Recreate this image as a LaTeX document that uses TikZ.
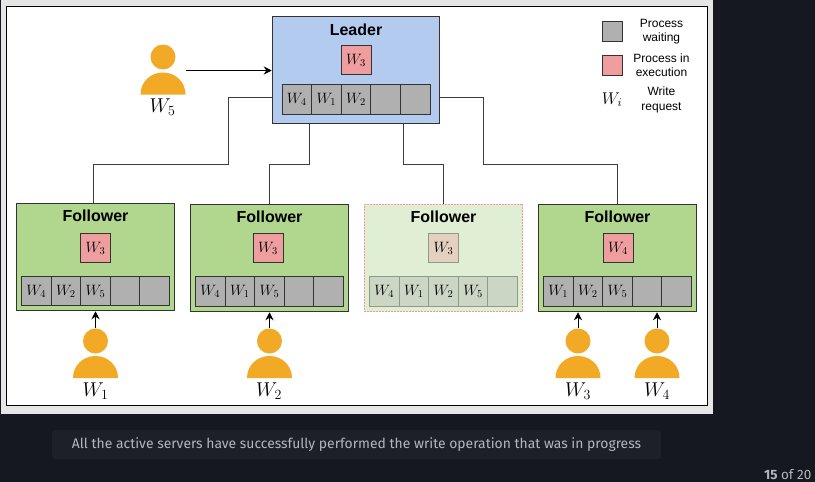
\documentclass[tikz,border=0pt]{standalone}
\usepackage{fix-cm}
\usepackage{amsmath}
\usepackage{fontspec}
\setsansfont{Liberation Sans}
\newfontfamily\captionfont{Fira Sans}
\usepackage{tikz}
\usetikzlibrary{arrows.meta}
\definecolor{pagedark}{HTML}{161821}
\definecolor{capbox}{HTML}{1E2029}
\definecolor{captext}{HTML}{B4B6BA}
\definecolor{panelgrey}{HTML}{E6E6E6}
\definecolor{leaderblue}{HTML}{B2CBEF}
\definecolor{followergreen}{HTML}{B1D68D}
\definecolor{fadedgreen}{HTML}{E0EED3}
\definecolor{fadedred}{HTML}{F09C99}
\definecolor{runpink}{HTML}{EE9E9F}
\definecolor{waitgrey}{HTML}{B0B0B0}
\definecolor{fadedrun}{HTML}{E3D0BF}
\definecolor{fadedwait}{HTML}{CCD6C4}
\definecolor{fadedline}{HTML}{8F9A88}
\definecolor{personorange}{HTML}{F2A926}
\definecolor{wireline}{HTML}{3C3C3C}
\begin{document}
\begin{tikzpicture}
            [x=1pt,y=-1pt,
            server/.style={draw=black!80,line width=1pt,minimum width=158.5pt,minimum height=107.5pt,inner sep=0pt},
            title/.style={font=\sffamily\bfseries\fontsize{16}{18}\selectfont,inner sep=0pt},
            run/.style={draw=black!80,line width=1pt,fill=runpink,minimum width=30pt,minimum height=29.5pt,inner sep=0pt,font=\fontsize{15}{17}\selectfont},
            wait/.style={draw=black!80,line width=1pt,fill=waitgrey,minimum width=29.6pt,minimum height=29.5pt,inner sep=0pt,font=\fontsize{15}{17}\selectfont},
            fadedcell/.style={draw=fadedline,fill=fadedwait},
            head/.style={circle,fill=personorange,minimum size=25pt,inner sep=0pt},
            who/.style={inner sep=0pt,font=\fontsize{20}{22}\selectfont},
            legend/.style={font=\sffamily\fontsize{12}{14.3}\selectfont,align=center,inner sep=0pt},
            wire/.style={draw=wireline,line width=1pt},
            push/.style={draw=black,line width=1pt,-{Stealth[length=8pt,width=8pt]}},
            personbody/.pic={\fill[personorange] (-22.5,0) .. controls (-22.5,-12.5) and (-12.5,-22) .. (0,-22) .. controls (12.5,-22) and (22.5,-12.5) .. (22.5,0) -- cycle;}]
            % page and panel
            \fill[pagedark] (0,0) rectangle (815,482);
            \fill[panelgrey] (1,0) rectangle (713,414);
            \draw[fill=white,line width=1pt] (6.5,6.5) rectangle (707.5,405.5);
            % the caption
            \node[fill=capbox,rounded corners=3pt,minimum width=609pt,minimum height=29pt,inner sep=0pt] (captionbox) at (356.5,444.5) {};
            \node[text=captext,font=\captionfont\fontsize{13.9}{15}\selectfont] (caption) at (captionbox) {All the active servers have successfully performed the write operation that was in progress};
            \node[text=captext,anchor=east,inner sep=0pt,font=\captionfont\fontsize{13.5}{14}\selectfont] (pageno) at (811.5,474.5) {\textbf{15} of 20};
            % the servers
            \node[server,fill=leaderblue,minimum width=167.5pt] (leader) at (356,70) {};
            \node[server,fill=followergreen] (f1) at (95.5,257) {};
            \node[server,fill=followergreen] (f2) at (269.5,258) {};
            \node[server,fill=fadedgreen,draw=fadedred,dashed,dash pattern=on 2pt off 1pt] (f3) at (443.5,258) {};
            \node[server,fill=followergreen] (f4) at (617.5,258) {};
            \node[title] (tl) at (356,29.5) {Leader};
            \node[title] (t1) at (95.5,215.5) {Follower};
            \node[title] (t2) at (269.5,216.5) {Follower};
            \node[title] (t3) at (443.5,216.5) {Follower};
            \node[title] (t4) at (617.5,216.5) {Follower};
            % the running process
            \node[run] (rl) at (356,60) {$W_3$};
            \node[run] (r1) at (95.5,248) {$W_3$};
            \node[run] (r2) at (268,248) {$W_3$};
            \node[run,fill=fadedrun,draw=fadedline] (r3) at (443.5,248) {$W_3$};
            \node[run] (r4) at (618,248) {$W_4$};
            % the queues
            \node[wait] (ql1) at (296.8,99.5) {$W_4$};
            \node[wait] (ql2) at (326.4,99.5) {$W_1$};
            \node[wait] (ql3) at (356,99.5) {$W_2$};
            \node[wait] (ql4) at (385.6,99.5) {};
            \node[wait] (ql5) at (415.2,99.5) {};
            \node[wait] (q11) at (36.3,291) {$W_4$};
            \node[wait] (q12) at (65.9,291) {$W_2$};
            \node[wait] (q13) at (95.5,291) {$W_5$};
            \node[wait] (q14) at (125.1,291) {};
            \node[wait] (q15) at (154.7,291) {};
            \node[wait] (q21) at (210.3,291.5) {$W_4$};
            \node[wait] (q22) at (239.9,291.5) {$W_1$};
            \node[wait] (q23) at (269.5,291.5) {$W_5$};
            \node[wait] (q24) at (299.1,291.5) {};
            \node[wait] (q25) at (328.7,291.5) {};
            \node[wait,fadedcell] (q31) at (384.3,291.5) {$W_4$};
            \node[wait,fadedcell] (q32) at (413.9,291.5) {$W_1$};
            \node[wait,fadedcell] (q33) at (443.5,291.5) {$W_2$};
            \node[wait,fadedcell] (q34) at (473.1,291.5) {$W_5$};
            \node[wait,fadedcell] (q35) at (502.7,291.5) {};
            \node[wait] (q41) at (558.3,291.5) {$W_1$};
            \node[wait] (q42) at (587.9,291.5) {$W_2$};
            \node[wait] (q43) at (617.5,291.5) {$W_5$};
            \node[wait] (q44) at (647.1,291.5) {};
            \node[wait] (q45) at (676.7,291.5) {};
            % the clients
            \node[head] (w5) at (163,57) {};
            \node[head] (w1) at (95.5,341) {};
            \node[head] (w2) at (269.5,341) {};
            \node[head] (w3) at (578,341) {};
            \node[head] (w4) at (657,341) {};
            \pic at (163,94.5) {personbody};
            \pic at (95.5,378) {personbody};
            \pic at (269.5,378) {personbody};
            \pic at (578,378) {personbody};
            \pic at (657,378) {personbody};
            \node[who] (l5) at (162.5,107.5) {$W_5$};
            \node[who] (l1) at (95.5,391) {$W_1$};
            \node[who] (l2) at (269,391) {$W_2$};
            \node[who] (l3) at (578,391) {$W_3$};
            \node[who] (l4) at (657,391) {$W_4$};
            % the wires
            \coordinate (leftport) at (272,97.5);
            \coordinate (rightport) at (440,97.5);
            \coordinate (port2) at (309.5,124);
            \coordinate (port3) at (403.5,124);
            \coordinate (f1port) at (93.5,203);
            \draw[wire] (leftport) -| (228.5,164) -| (f1port);
            \draw[wire] (port2) |- (269.5,164) -- (f2.north);
            \draw[wire] (port3) |- (443.5,164) -- (f3.north);
            \draw[wire] (rightport) -| (483.5,164) -| (f4.north);
            % the requests
            \coordinate (w5arm) at (185.5,70.5);
            \draw[push] (w5arm) -- (leader.west |- w5arm);
            \draw[push] (w1.north) -- (f1.south);
            \draw[push] (w2.north) -- (f2.south);
            \draw[push] (w3.north) -- (w3.north |- f4.south);
            \draw[push] (w4.north) -- (w4.north |- f4.south);
            % the legend
            \node[wait,minimum width=20pt,minimum height=20pt] (keywait) at (612.5,31) {};
            \node[run,minimum width=20pt,minimum height=20pt] (keyrun) at (612.5,65.5) {};
            \node[inner sep=0pt,font=\fontsize{17}{19}\selectfont] (keyreq) at (612,99.5) {$W_i$};
            \node[legend] (waittext) at (661.5,31.5) {Process\\ waiting};
            \node[legend] (runtext) at (661.5,65) {Process in\\ execution};
            \node[legend] (reqtext) at (661.5,100) {Write\\ request};
        \end{tikzpicture}
\end{document}
